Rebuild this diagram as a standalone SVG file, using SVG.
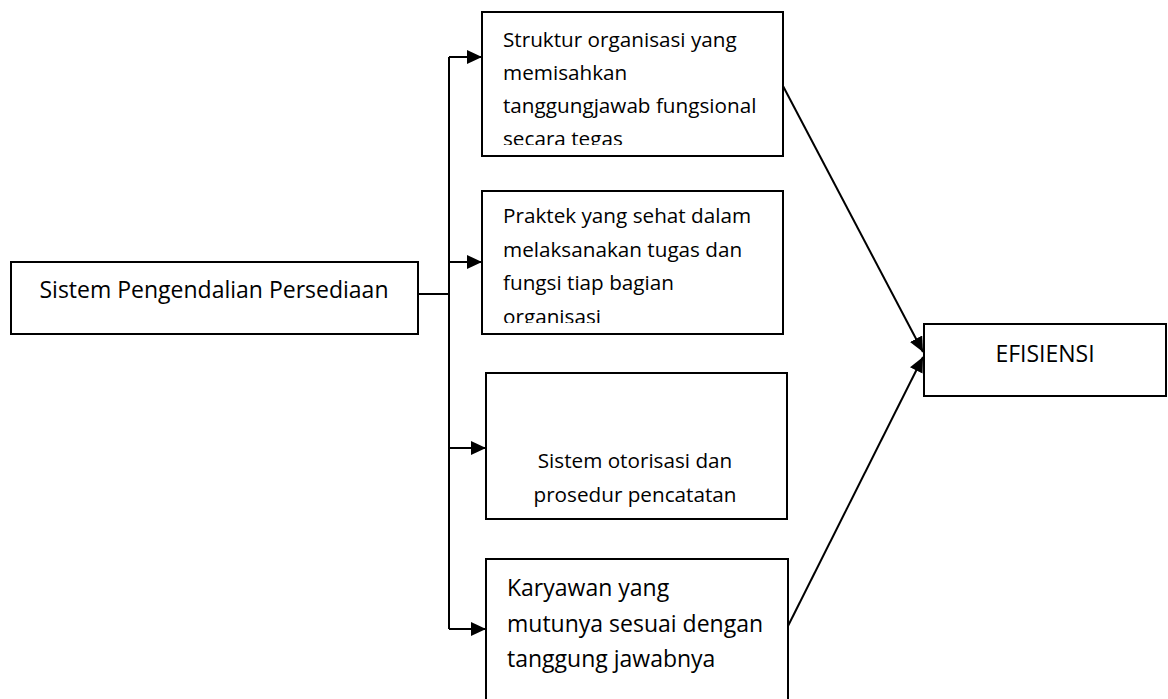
<svg xmlns="http://www.w3.org/2000/svg" width="1168" height="699" viewBox="0 0 1168 699">
  <style>
    .box { fill: #ffffff; stroke: #000000; stroke-width: 2; }
    .lbl { font-family: "Open Sans", "Noto Sans", "Liberation Sans", sans-serif; font-size: 20.7px; fill: #000000; }
    .lg { font-size: 23px; }
    .mid { text-anchor: middle; }
    .wire { fill: none; stroke: #000000; stroke-width: 2; }
  </style>
  <defs>
    <marker id="arrow" markerUnits="userSpaceOnUse" markerWidth="16" markerHeight="14" refX="15" refY="7" orient="auto">
      <path d="M0,0 L15,7 L0,14 Z" fill="#000000"/>
    </marker>
    <clipPath id="clip1"><rect x="482" y="12" width="301" height="133"/></clipPath>
    <clipPath id="clip2"><rect x="482" y="191" width="301" height="132"/></clipPath>
  </defs>

  <g id="connectors">
    <path class="wire" d="M418,294 H449"/>
    <path class="wire" d="M449,57 V629"/>
    <path class="wire" d="M449,57 H482" marker-end="url(#arrow)"/>
    <path class="wire" d="M449,262 H482" marker-end="url(#arrow)"/>
    <path class="wire" d="M449,448 H486" marker-end="url(#arrow)"/>
    <path class="wire" d="M449,629 H486" marker-end="url(#arrow)"/>
    <path class="wire" d="M783,86 L923,352" marker-end="url(#arrow)"/>
    <path class="wire" d="M787,628 L923,357" marker-end="url(#arrow)"/>
  </g>

  <g id="sistem-pengendalian">
    <rect class="box" x="11" y="262" width="407" height="72"/>
    <text class="lbl lg mid" x="214" y="298">Sistem Pengendalian Persediaan</text>
  </g>

  <g id="struktur-organisasi">
    <rect class="box" x="482" y="12" width="301" height="144"/>
    <g clip-path="url(#clip1)">
      <text class="lbl" x="503" y="47">Struktur organisasi yang</text>
      <text class="lbl" x="503" y="80">memisahkan</text>
      <text class="lbl" x="503" y="112.5">tanggungjawab fungsional</text>
      <text class="lbl" x="503" y="146">secara tegas</text>
    </g>
  </g>

  <g id="praktek-sehat">
    <rect class="box" x="482" y="191" width="301" height="143"/>
    <g clip-path="url(#clip2)">
      <text class="lbl" x="503" y="223">Praktek yang sehat dalam</text>
      <text class="lbl" x="503" y="256.5">melaksanakan tugas dan</text>
      <text class="lbl" x="503" y="290">fungsi tiap bagian</text>
      <text class="lbl" x="503" y="324">organisasi</text>
    </g>
  </g>

  <g id="sistem-otorisasi">
    <rect class="box" x="486" y="373" width="301" height="146"/>
    <text class="lbl mid" x="635" y="468">Sistem otorisasi dan</text>
    <text class="lbl mid" x="635" y="502">prosedur pencatatan</text>
  </g>

  <g id="karyawan">
    <rect class="box" x="486" y="559" width="302" height="200"/>
    <text class="lbl lg" x="507" y="596">Karyawan yang</text>
    <text class="lbl lg" x="507" y="632">mutunya sesuai dengan</text>
    <text class="lbl lg" x="507" y="667">tanggung jawabnya</text>
  </g>

  <g id="efisiensi">
    <rect class="box" x="924" y="324" width="242" height="72"/>
    <text class="lbl lg mid" x="1045" y="362">EFISIENSI</text>
  </g>
</svg>
